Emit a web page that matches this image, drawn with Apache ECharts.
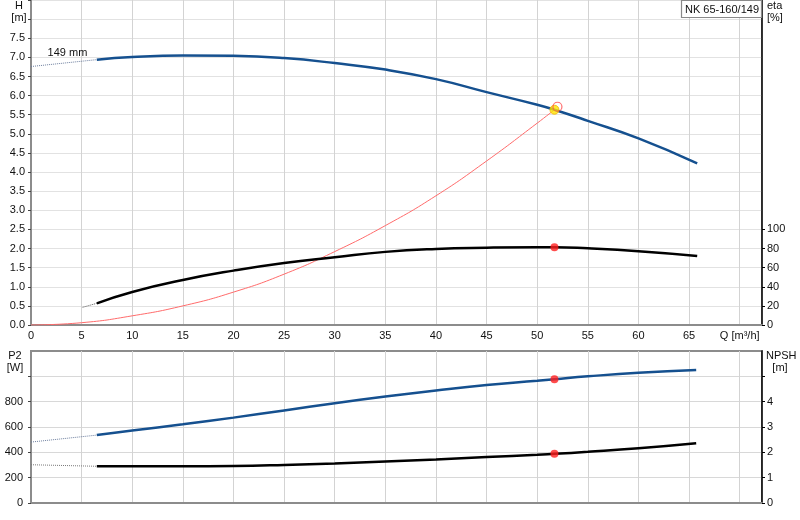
<!DOCTYPE html>
<html>
<head>
<meta charset="utf-8">
<script src="https://cdn.jsdelivr.net/npm/echarts@6/dist/echarts.min.js"></script>
<style>
  html, body { margin: 0; padding: 0; background: #fff; }
  #main { width: 800px; height: 520px; }
</style>
</head>
<body>
<div id="main"></div>
<script>
// Pump curve data (Q in m³/h)
var hQ = [6.5, 10, 15, 20, 25, 30, 35, 40, 45, 50, 51.7, 55, 60, 65.8];
var hVal = [6.94, 7.01, 7.05, 7.04, 6.98, 6.85, 6.68, 6.43, 6.09, 5.76, 5.63, 5.34, 4.88, 4.23];
var hExtQ = [0, 6.5];
var hExtVal = [6.76, 6.94];

var sysQ = [0, 5, 10, 15, 20, 25, 30, 35, 40, 45, 50, 51.7];
var sysVal = [0, 0.06, 0.24, 0.50, 0.86, 1.33, 1.92, 2.60, 3.38, 4.29, 5.28, 5.63];

var etaQ = [6.5, 10, 15, 20, 25, 30, 35, 40, 45, 50, 51.7, 55, 60, 65.8];
var etaVal = [22.7, 34.6, 47.1, 56.9, 64.9, 70.9, 76.5, 79.6, 80.9, 81.4, 81.4, 80.2, 77.2, 72.3];
var etaExtQ = [5.1, 6.5];
var etaExtVal = [18.5, 22.7];

var p2Q = [6.5, 10, 15, 20, 25, 30, 35, 40, 45, 50, 51.7, 55, 60, 65.7];
var p2Val = [536, 573, 621, 674, 731, 787, 840, 888, 931, 965, 977, 1000, 1028, 1050];
var p2ExtQ = [0, 6.5];
var p2ExtVal = [481, 536];

var npshQ = [6.5, 10, 15, 20, 25, 30, 35, 40, 45, 50, 51.7, 55, 60, 65.7];
var npshVal = [1.45, 1.45, 1.45, 1.46, 1.50, 1.56, 1.64, 1.72, 1.82, 1.90, 1.94, 2.02, 2.16, 2.36];
var npshExtQ = [0, 6.5];
var npshExtVal = [1.51, 1.45];

// duty point
var opQ = 51.7, opH = 5.63, opEta = 81.4, opP2 = 977, opNpsh = 1.94;

var etaTicks = [0, 20, 40, 60, 80, 100];
var p2Ticks = [0, 200, 400, 600, 800, 1000];
var p2Labels = [0, 200, 400, 600, 800];
var npshTicks = [0, 1, 2, 3, 4, 5];
var npshLabels = [0, 1, 2, 3, 4];

function pairs(xs, ys) {
    return xs.map(function (x, i) { return [x, ys[i]]; });
}

var FONT = '"Liberation Sans", Arial, sans-serif';
var BLUE = '#15508f';
var GREY = '#8c8c8c';

var chart = echarts.init(document.getElementById('main'));

function xAxisFor(idx, labels) {
    return {
        gridIndex: idx, type: 'value', min: 0, max: 72.2, interval: 5,
        axisLine: { lineStyle: { color: GREY, width: 2 } },
        axisTick: { show: false },
        axisLabel: {
            show: labels, margin: 5, fontSize: 11, fontFamily: FONT, color: '#111',
            showMaxLabel: false,
            formatter: function (v) { return v === 70 ? 'Q [m³/h]' : (v > 70 ? '' : String(v)); }
        },
        splitLine: { show: true, lineStyle: { color: '#d3d3d3', width: 1 } }
    };
}

var option = {
    animation: false,
    textStyle: { fontFamily: FONT },
    title: {
        text: 'NK 65-160/149',
        right: 38, top: 0,
        padding: [4, 3, 3, 4],
        borderColor: '#8a8a8a', borderWidth: 1.2, backgroundColor: '#fff',
        textStyle: { fontSize: 11, fontWeight: 'normal', color: '#111', fontFamily: FONT }
    },
    grid: [
        { left: 31, width: 731, top: 0, height: 325, show: true, borderColor: GREY, borderWidth: 1.5 },
        { left: 31, width: 731, top: 351, height: 152, show: true, borderColor: GREY, borderWidth: 2 }
    ],
    xAxis: [xAxisFor(0, true), xAxisFor(1, false)],
    yAxis: [
        {
            gridIndex: 0, type: 'value', position: 'left', min: 0, max: 8.5, interval: 0.5,
            axisLine: { show: true, lineStyle: { color: GREY, width: 2 } },
            axisTick: { show: true, length: 3, lineStyle: { color: '#444' } },
            axisLabel: {
                margin: 6, fontSize: 11, fontFamily: FONT, color: '#111',
                formatter: function (v) { return v <= 7.5 ? v.toFixed(1) : ''; }
            },
            splitLine: { show: true, lineStyle: { color: '#e2e2e2', width: 1.2 } }
        },
        {
            gridIndex: 0, type: 'value', position: 'right', min: 0, max: 340, interval: 20,
            axisLine: { show: true, lineStyle: { color: '#000', width: 1.5 } },
            axisTick: { show: true, length: 3, customValues: etaTicks, lineStyle: { color: '#000' } },
            axisLabel: {
                margin: 5, fontSize: 11, fontFamily: FONT, color: '#111', customValues: etaTicks,
                formatter: function (v) { return v <= 100 ? String(v) : ''; }
            },
            splitLine: { show: false }
        },
        {
            gridIndex: 1, type: 'value', position: 'left', min: 0, max: 1200, interval: 200,
            axisLine: { show: true, lineStyle: { color: GREY, width: 2 } },
            axisTick: { show: true, length: 3, customValues: p2Ticks, lineStyle: { color: '#444' } },
            axisLabel: {
                margin: 8, fontSize: 11, fontFamily: FONT, color: '#111', customValues: p2Labels,
                formatter: function (v) { return v <= 800 ? String(v) : ''; }
            },
            splitLine: { show: true, lineStyle: { color: '#d8d8d8', width: 1.2 } }
        },
        {
            gridIndex: 1, type: 'value', position: 'right', min: 0, max: 6, interval: 1,
            axisLine: { show: true, lineStyle: { color: '#000', width: 1.5 } },
            axisTick: { show: true, length: 3, customValues: npshTicks, lineStyle: { color: '#000' } },
            axisLabel: {
                margin: 5, fontSize: 11, fontFamily: FONT, color: '#111', customValues: npshLabels,
                formatter: function (v) { return v <= 4 ? String(v) : ''; }
            },
            splitLine: { show: false }
        }
    ],
    graphic: [
        { type: 'text', x: 19, y: 6, style: { text: 'H', align: 'center', verticalAlign: 'middle', font: '11px ' + FONT, fill: '#111' } },
        { type: 'text', x: 19, y: 18, style: { text: '[m]', align: 'center', verticalAlign: 'middle', font: '11px ' + FONT, fill: '#111' } },
        { type: 'text', x: 767, y: 6, style: { text: 'eta', align: 'left', verticalAlign: 'middle', font: '11px ' + FONT, fill: '#111' } },
        { type: 'text', x: 767, y: 18, style: { text: '[%]', align: 'left', verticalAlign: 'middle', font: '11px ' + FONT, fill: '#111' } },
        { type: 'text', x: 15, y: 356, style: { text: 'P2', align: 'center', verticalAlign: 'middle', font: '11px ' + FONT, fill: '#111' } },
        { type: 'text', x: 15, y: 368, style: { text: '[W]', align: 'center', verticalAlign: 'middle', font: '11px ' + FONT, fill: '#111' } },
        { type: 'text', x: 766, y: 356, style: { text: 'NPSH', align: 'left', verticalAlign: 'middle', font: '11px ' + FONT, fill: '#111' } },
        { type: 'text', x: 780, y: 368, style: { text: '[m]', align: 'center', verticalAlign: 'middle', font: '11px ' + FONT, fill: '#111' } }
    ],
    series: [
        {
            name: 'H ext', type: 'line', xAxisIndex: 0, yAxisIndex: 0,
            data: pairs(hExtQ, hExtVal), symbol: 'none',
            lineStyle: { color: '#6a7c9c', width: 1, type: 'dotted' },
            markPoint: {
                symbol: 'circle', symbolSize: 0,
                data: [{ coord: [3.6, 7.12] }],
                label: { show: true, formatter: '149 mm', fontSize: 11, fontFamily: FONT, color: '#111', position: 'inside' }
            }
        },
        {
            name: 'H', type: 'line', xAxisIndex: 0, yAxisIndex: 0,
            data: pairs(hQ, hVal), smooth: true, symbol: 'none',
            lineStyle: { color: BLUE, width: 2.5 }, z: 3
        },
        {
            name: 'System', type: 'line', xAxisIndex: 0, yAxisIndex: 0,
            data: pairs(sysQ, sysVal), smooth: true, symbol: 'none',
            lineStyle: { color: '#ff6b6b', width: 1 }, z: 2
        },
        {
            name: 'Ring', type: 'scatter', xAxisIndex: 0, yAxisIndex: 0,
            data: [[opQ, opH]], symbol: 'circle', symbolSize: 9, symbolOffset: [3, -3],
            itemStyle: { color: 'rgba(255,255,255,0)', borderColor: '#ff4a4a', borderWidth: 1.2 }, z: 6
        },
        {
            name: 'Duty', type: 'scatter', xAxisIndex: 0, yAxisIndex: 0,
            data: [[opQ, opH]], symbol: 'circle', symbolSize: 9,
            itemStyle: { color: '#ffe400', borderColor: '#f0b400', borderWidth: 1 }, z: 5
        },
        {
            name: 'eta ext', type: 'line', xAxisIndex: 0, yAxisIndex: 1,
            data: pairs(etaExtQ, etaExtVal), symbol: 'none',
            lineStyle: { color: '#555', width: 1, type: 'dotted' }
        },
        {
            name: 'eta', type: 'line', xAxisIndex: 0, yAxisIndex: 1,
            data: pairs(etaQ, etaVal), smooth: true, symbol: 'none',
            lineStyle: { color: '#000', width: 2.5 }, z: 3
        },
        {
            name: 'eta duty', type: 'scatter', xAxisIndex: 0, yAxisIndex: 1,
            data: [[opQ, opEta]], symbol: 'circle', symbolSize: 8,
            itemStyle: { color: '#ff1f1f' }, z: 5
        },
        {
            name: 'P2 ext', type: 'line', xAxisIndex: 1, yAxisIndex: 2,
            data: pairs(p2ExtQ, p2ExtVal), symbol: 'none',
            lineStyle: { color: '#6a7c9c', width: 1, type: 'dotted' }
        },
        {
            name: 'P2', type: 'line', xAxisIndex: 1, yAxisIndex: 2,
            data: pairs(p2Q, p2Val), smooth: true, symbol: 'none',
            lineStyle: { color: BLUE, width: 2.5 }, z: 3
        },
        {
            name: 'P2 duty', type: 'scatter', xAxisIndex: 1, yAxisIndex: 2,
            data: [[opQ, opP2]], symbol: 'circle', symbolSize: 8,
            itemStyle: { color: '#ff1f1f' }, z: 5
        },
        {
            name: 'NPSH ext', type: 'line', xAxisIndex: 1, yAxisIndex: 3,
            data: pairs(npshExtQ, npshExtVal), symbol: 'none',
            lineStyle: { color: '#777', width: 1, type: 'dotted' }
        },
        {
            name: 'NPSH', type: 'line', xAxisIndex: 1, yAxisIndex: 3,
            data: pairs(npshQ, npshVal), smooth: true, symbol: 'none',
            lineStyle: { color: '#000', width: 2.5 }, z: 3
        },
        {
            name: 'NPSH duty', type: 'scatter', xAxisIndex: 1, yAxisIndex: 3,
            data: [[opQ, opNpsh]], symbol: 'circle', symbolSize: 8,
            itemStyle: { color: '#ff1f1f' }, z: 5
        }
    ]
};

option && chart.setOption(option);
</script>
</body>
</html>
